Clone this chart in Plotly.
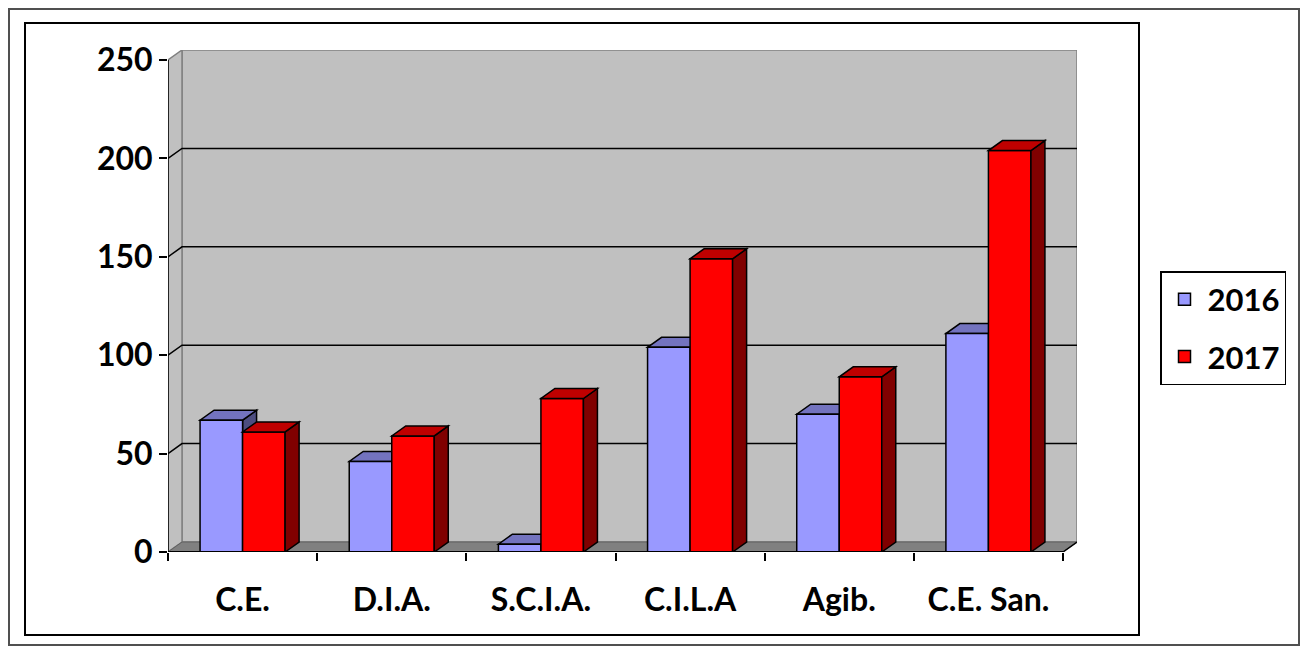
import plotly.graph_objects as go

# ---------------- data ----------------
categories = ["C.E.", "D.I.A.", "S.C.I.A.", "C.I.L.A", "Agib.", "C.E. San."]
series_names = ["2016", "2017"]
values_2016 = [67, 46, 4, 104, 70, 111]
values_2017 = [61, 59, 78, 149, 89, 204]
y_tick_values = [0, 50, 100, 150, 200, 250]

# ---------------- geometry / style ----------------
W, H = 1308, 649
OFF = 8                         # page body margin of the rendered html
L, T = 168 - OFF, 50 - OFF
R = W - (1077 - OFF)
B = H - (552 - OFF)
PW = W - L - R
PH = H - T - B
DX_PX, DY_PX = 14, 10          # 3-D depth offset in pixels
n = len(categories)
y_max = max(y_tick_values)

x_lo = -0.5
x_span = n * PW / (PW - DX_PX)
x_hi = x_lo + x_span
ddx = x_span - n
y_hi = y_max * PH / (PH - DY_PX)
ddy = y_hi - y_max

BW = 0.285
FONT = dict(family="Lato, 'Open Sans', sans-serif", color="black", weight="bold")

front_colors = ["#9999FF", "#FF0000"]
top_colors = ["#7373BF", "#BF0000"]
side_colors = ["#4D4D80", "#800000"]
offsets = [-BW, 0.0]


def path(pts):
    return "M " + " L ".join(f"{x},{y}" for x, y in pts) + " Z"


def px_to_paper(px, py):
    # px, py are screen pixels; the figure is drawn OFF pixels in from the page corner
    return (px - OFF - L) / PW, (H - B - (py - OFF)) / PH


shapes = []
# back wall
shapes.append(dict(type="rect", xref="x", yref="y", layer="below",
                   x0=x_lo + ddx, x1=n - 0.5 + ddx, y0=ddy, y1=y_max + ddy,
                   fillcolor="#C0C0C0", line=dict(color="#808080", width=1.5)))
# side wall
shapes.append(dict(type="path", xref="x", yref="y", layer="below",
                   path=path([(x_lo, 0), (x_lo + ddx, ddy), (x_lo + ddx, y_max + ddy), (x_lo, y_max)]),
                   fillcolor="#C0C0C0", line=dict(color="#808080", width=1.5)))
# floor
shapes.append(dict(type="path", xref="x", yref="y", layer="below",
                   path=path([(x_lo, 0), (n - 0.5, 0), (n - 0.5 + ddx, ddy), (x_lo + ddx, ddy)]),
                   fillcolor="#808080", line=dict(color="#606060", width=1)))
# gridlines (side wall diagonal + back wall)
for v in y_tick_values[1:-1]:
    shapes.append(dict(type="path", xref="x", yref="y", layer="below",
                       path=f"M {x_lo},{v} L {x_lo + ddx},{v + ddy} L {n - 0.5 + ddx},{v + ddy}",
                       line=dict(color="black", width=1.5)))

# 3-D faces of the bars
series_values = [values_2016, values_2017]
for s, vals in enumerate(series_values):
    layer = "below" if s == 0 else "above"
    for i, v in enumerate(vals):
        x0 = i + offsets[s]
        x1 = x0 + BW
        shapes.append(dict(type="path", xref="x", yref="y", layer=layer,
                           path=path([(x1, 0), (x1 + ddx, ddy), (x1 + ddx, v + ddy), (x1, v)]),
                           fillcolor=side_colors[s], line=dict(color="black", width=1.5)))
        shapes.append(dict(type="path", xref="x", yref="y", layer=layer,
                           path=path([(x0, v), (x1, v), (x1 + ddx, v + ddy), (x0 + ddx, v + ddy)]),
                           fillcolor=top_colors[s], line=dict(color="black", width=1.5)))

# front axis lines
shapes.append(dict(type="line", xref="x", yref="y", layer="above",
                   x0=x_lo, x1=n - 0.5, y0=0, y1=0, line=dict(color="black", width=2)))
shapes.append(dict(type="line", xref="x", yref="y", layer="above",
                   x0=n - 0.5, x1=n - 0.5 + ddx, y0=0, y1=ddy, line=dict(color="black", width=1.5)))
shapes.append(dict(type="line", xref="x", yref="y", layer="above",
                   x0=x_lo, x1=x_lo, y0=0, y1=y_max, line=dict(color="black", width=1.5)))

# chart borders (paper)
ox0, oy0 = px_to_paper(9, 645)
ox1, oy1 = px_to_paper(1299, 9)
shapes.append(dict(type="rect", xref="paper", yref="paper", layer="above",
                   x0=ox0, y0=oy0, x1=ox1, y1=oy1, line=dict(color="#505050", width=2)))
ix0, iy0 = px_to_paper(25, 635)
ix1, iy1 = px_to_paper(1139, 23)
shapes.append(dict(type="rect", xref="paper", yref="paper", layer="above",
                   x0=ix0, y0=iy0, x1=ix1, y1=iy1, line=dict(color="black", width=2)))

fig = go.Figure()
for s, vals in enumerate(series_values):
    fig.add_trace(go.Bar(
        x=list(range(n)), y=vals, width=BW, offset=offsets[s],
        name=series_names[s], legendgroup=series_names[s],
        marker=dict(color=front_colors[s], line=dict(color="black", width=1.5)),
    ))

lx, ly = px_to_paper(1160, 271)
fig.update_layout(
    width=W, height=H,
    margin=dict(l=L, r=R, t=T, b=B),
    paper_bgcolor="white", plot_bgcolor="white",
    barmode="overlay",
    shapes=shapes,
    showlegend=True,
    legend=dict(x=lx, y=ly, xanchor="left", yanchor="top",
                bordercolor="black", borderwidth=1.5, bgcolor="white",
                font=dict(size=31, **FONT), tracegroupgap=14, itemwidth=36,
                traceorder="grouped"),
    xaxis=dict(range=[x_lo, x_hi], tickvals=list(range(n)), ticktext=categories,
               ticks="", showgrid=False, zeroline=False, showline=False,
               tickfont=dict(size=32, **FONT), ticklabelstandoff=26,
               minor=dict(tickvals=[i - 0.5 for i in range(n + 1)], ticks="outside",
                          ticklen=8, tickcolor="black", tickwidth=1.5, showgrid=False)),
    yaxis=dict(range=[0, y_hi], tickvals=y_tick_values, ticks="outside", ticklen=8,
               tickcolor="black", tickwidth=1.5, showgrid=False, zeroline=False,
               showline=False, tickfont=dict(size=32, **FONT), ticklabelstandoff=0),
)

fig.write_html("out.html")
